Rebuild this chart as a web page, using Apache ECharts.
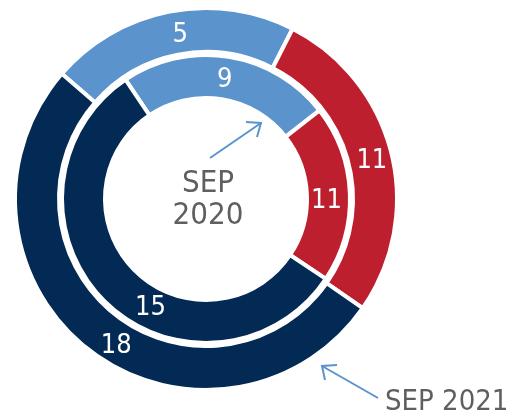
<!DOCTYPE html>
<html>
<head>
<meta charset="utf-8">
<script src="https://cdn.jsdelivr.net/npm/echarts@6/dist/echarts.min.js"></script>
<style>
  html, body { margin: 0; padding: 0; background: #ffffff; }
  #chart { width: 516px; height: 417px; }
</style>
</head>
<body>
<div id="chart"></div>
<script>
// Segments (clockwise, starting at the light-blue segment)
const categories = ['Segment A', 'Segment B', 'Segment C'];
// Numbers printed on the rings
const sep2021Counts = [5, 11, 18];
const sep2020Counts = [9, 11, 15];
// Arc shares (%) as drawn in the reference (arcs are not proportional to the counts)
const sep2021Shares = [21.1, 27.2, 51.7];
const sep2020Shares = [23.9, 19.9, 56.2];
// Ring titles
const ringTitles = ['SEP 2021', 'SEP\n2020'];

const colors = ['#5B93CC', '#BE1F2E', '#022A54'];
const FONT = "'DejaVu Sans Condensed', 'DejaVu Sans', sans-serif";
const CX = 206, CY = 199;

// label nudges (pixels) per segment, to match the reference placement
const outerNudge = [[7, 5], [-1, 4], [16, 11]];
const innerNudge = [[-1, 5], [-5, 7], [33, 20]];

function buildData(shares, counts) {
  return categories.map((c, i) => ({ name: c, value: shares[i], count: counts[i] }));
}

const chart = echarts.init(document.getElementById('chart'), null, { renderer: 'canvas' });

const labelBase = {
  show: true,
  position: 'inside',
  color: '#ffffff',
  fontFamily: FONT,
  fontSize: 27,
  formatter: p => String(p.data.count)
};

const option = {
  animation: false,
  color: colors,
  series: [
    {
      name: 'SEP 2021',
      type: 'pie',
      center: [CX, CY],
      radius: [147, 191],
      startAngle: 139,
      clockwise: true,
      avoidLabelOverlap: false,
      silent: true,
      itemStyle: { borderColor: '#ffffff', borderWidth: 4 },
      label: labelBase,
      labelLine: { show: false },
      emphasis: { disabled: true },
      labelLayout: p => ({ dx: outerNudge[p.dataIndex][0], dy: outerNudge[p.dataIndex][1] }),
      data: buildData(sep2021Shares, sep2021Counts)
    },
    {
      name: 'SEP 2020',
      type: 'pie',
      center: [CX, CY],
      radius: [101, 144],
      startAngle: 124,
      clockwise: true,
      avoidLabelOverlap: false,
      silent: true,
      itemStyle: { borderColor: '#ffffff', borderWidth: 4 },
      label: labelBase,
      labelLine: { show: false },
      emphasis: { disabled: true },
      labelLayout: p => ({ dx: innerNudge[p.dataIndex][0], dy: innerNudge[p.dataIndex][1] }),
      data: buildData(sep2020Shares, sep2020Counts)
    }
  ],
  graphic: [
    {
      type: 'text',
      x: 208, y: 200,
      style: {
        text: ringTitles[1],
        fill: '#5F5F5F',
        font: '31px ' + FONT,
        align: 'center',
        verticalAlign: 'middle',
        lineHeight: 32
      }
    },
    {
      type: 'text',
      x: 385, y: 402,
      style: {
        text: ringTitles[0],
        fill: '#5F5F5F',
        font: '29px ' + FONT,
        align: 'left',
        verticalAlign: 'middle'
      }
    },
    // arrow to inner ring
    {
      type: 'polyline',
      shape: { points: [[210, 158], [261, 123]] },
      style: { stroke: '#5B93CC', lineWidth: 2, fill: null }
    },
    {
      type: 'polyline',
      shape: { points: [[246, 122], [261, 123], [257, 137]] },
      style: { stroke: '#5B93CC', lineWidth: 2, fill: null }
    },
    // arrow to outer ring
    {
      type: 'polyline',
      shape: { points: [[378, 398], [322, 366]] },
      style: { stroke: '#5B93CC', lineWidth: 2, fill: null }
    },
    {
      type: 'polyline',
      shape: { points: [[337, 365], [322, 366], [325, 380]] },
      style: { stroke: '#5B93CC', lineWidth: 2, fill: null }
    }
  ]
};

chart.setOption(option);
</script>
</body>
</html>
